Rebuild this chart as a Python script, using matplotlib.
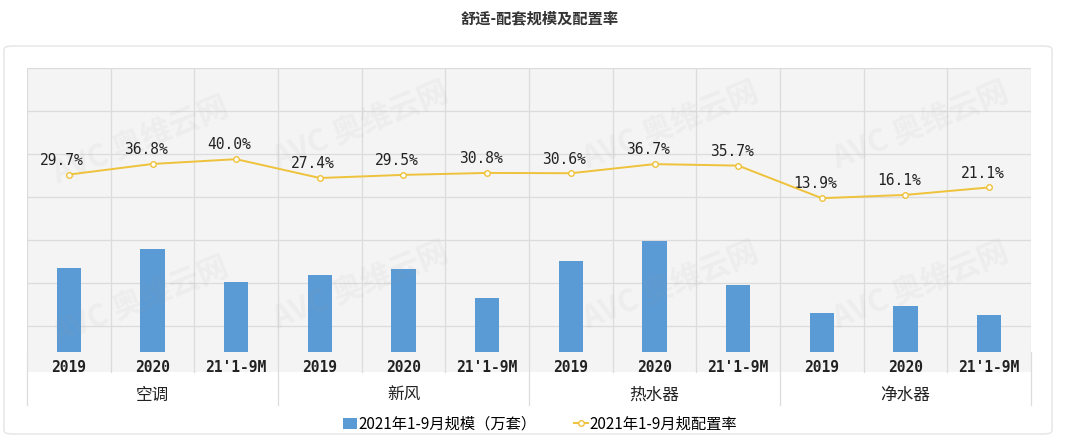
import numpy as np
import matplotlib.pyplot as plt
from matplotlib.patches import FancyBboxPatch, Rectangle
from matplotlib.lines import Line2D

plt.rcParams['font.family'] = ['Noto Sans CJK SC', 'DejaVu Sans']

# data
groups = ["空调", "新风", "热水器", "净水器"]
periods = ["2019", "2020", "21'1-9M"]
scale = [84, 103, 70, 77, 83, 54, 91, 111, 67, 39, 46, 37]   # 万套 (estimated)
rate = [29.7, 36.8, 40.0, 27.4, 29.5, 30.8, 30.6, 36.7, 35.7, 13.9, 16.1, 21.1]

W, H = 1080, 437
fig = plt.figure(figsize=(W / 100, H / 100), dpi=100)
fig.patch.set_facecolor("white")

def fx(px):
    return px / W

def fy(py):
    return 1 - py / H

# white card with a thin border
card = FancyBboxPatch((fx(4), fy(434)), fx(1048), (434 - 46) / H,
                      boxstyle="round,pad=0,rounding_size=0.008",
                      transform=fig.transFigure, fc="white", ec="#E4E4E4", lw=1.0,
                      zorder=-2)
fig.patches.append(card)

# grey band under the axes (tick label zone)
fig.patches.append(Rectangle((fx(27), fy(372)), fx(1031 - 27), (372 - 352) / H,
                             transform=fig.transFigure, fc="#F4F4F4", ec="none",
                             zorder=-1))

ax = fig.add_axes([fx(27), fy(352), fx(1031 - 27), (352 - 68) / H])
ax.set_facecolor("#F4F4F4")
n = len(scale)
x = np.arange(n)

ax.set_xlim(-0.5, n - 0.5)
ax.set_ylim(0, 284)
for yv in [26, 69, 112, 155, 198, 241, 284]:
    ax.axhline(yv, color="#DCDCDC", lw=0.9, zorder=1)
for xv in np.arange(-0.5, n, 1.0):
    ax.axvline(xv, color="#DCDCDC", lw=0.9, zorder=1)

# faint watermarks
for wx, wy in [(140, 140), (360, 125), (670, 125), (920, 125),
               (140, 300), (360, 285), (670, 285), (920, 285)]:
    ax.text(fx(wx), fy(wy), "AVC 奥维云网", transform=fig.transFigure,
            fontsize=22, fontweight="bold", color="#9A9A9A", alpha=0.08,
            rotation=22, ha="center", va="center", zorder=5)

ax.bar(x, scale, width=0.29, color="#5B9BD5", zorder=3)

ax2 = ax.twinx()
ax2.set_ylim(-89, 101)
ax2.plot(x, rate, color="#EEC23A", lw=1.4, marker="o", ms=4,
         mfc="white", mec="#EEC23A", mew=1.0, zorder=4)
for xi, r in zip(x, rate):
    ax2.text(xi - 0.08, r + 4.5, f"{r:.1f}%", ha="center", va="bottom",
             fontsize=10.5, color="#222222",
             family=["DejaVu Sans Mono", "Noto Sans CJK SC"])

for a in (ax, ax2):
    a.set_xticks([])
    a.set_yticks([])
    for s in a.spines.values():
        s.set_visible(False)

# category labels and separators
step = (1031 - 27) / n
for i in range(n):
    cx = 27 + step * (i + 0.5)
    fig.text(fx(cx), fy(368), periods[i % 3], ha="center", va="center",
             fontsize=10.5, fontweight="bold", color="#222222",
             family=["DejaVu Sans Mono", "Noto Sans CJK SC"])
for i in range(n + 1):
    bx = 27 + step * i
    bottom = 405 if i % 3 == 0 else 372
    fig.add_artist(Line2D([fx(bx), fx(bx)], [fy(352), fy(bottom)],
                          transform=fig.transFigure, color="#DCDCDC", lw=0.9))
for g, name in enumerate(groups):
    cx = 27 + step * (3 * g + 1.5)
    fig.text(fx(cx), fy(395), name, ha="center", va="center",
             fontsize=12, fontweight="medium", color="#222222")

fig.text(0.5, fy(18), "舒适-配套规模及配置率", ha="center", va="center",
         fontsize=11, fontweight="bold", color="#333333")

handles = [Rectangle((0, 0), 1, 1, fc="#5B9BD5", ec="none"),
           Line2D([], [], color="#EEC23A", lw=1.4, marker="o", ms=4,
                  mfc="white", mec="#EEC23A")]
fig.legend(handles, ["2021年1-9月规模（万套）", "2021年1-9月规配置率"],
           loc="center", bbox_to_anchor=(0.5, fy(424)), ncol=2, frameon=False,
           fontsize=11, handlelength=0.9, handletextpad=0.1, columnspacing=2.5)

fig.savefig("out.png", dpi=100)
